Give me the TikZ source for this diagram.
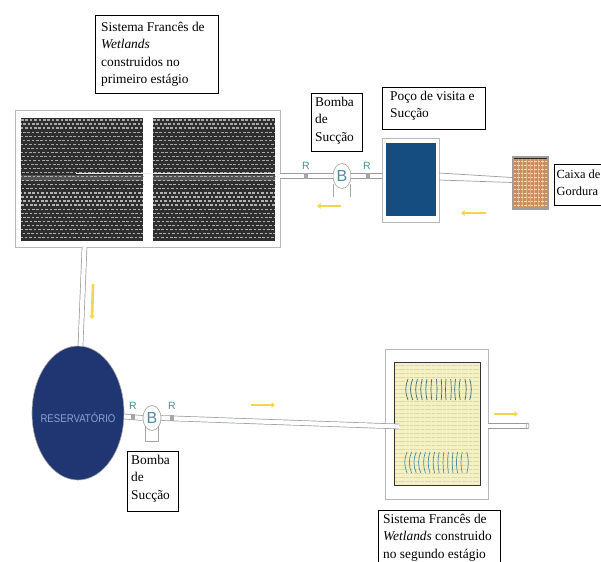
\documentclass[tikz,border=0pt]{standalone}
\usepackage{fontspec}
\setmainfont{Liberation Serif}
\setsansfont{Liberation Sans}
\usetikzlibrary{arrows.meta,shapes.geometric}
\definecolor{navy}{HTML}{1F3672}
\definecolor{well}{HTML}{164D80}
\definecolor{sand}{HTML}{F4F1C6}
\definecolor{sandline}{HTML}{DCD89E}
\definecolor{fat}{HTML}{C88F5E}
\definecolor{fatline}{HTML}{F3DDB8}
\definecolor{flow}{HTML}{EFD84A}
\definecolor{pipeg}{HTML}{9A9C9C}
\definecolor{teal2}{HTML}{4F8C9C}
\definecolor{reslabel}{HTML}{8AA5D0}
\tikzset{
 x=1pt,y=-1pt,
 label box/.style={draw=black,line width=.9pt,fill=white,anchor=north west,inner sep=0pt},
 label text/.style={anchor=north west,inner sep=0pt,align=left,font=\fontsize{13.4}{17.4}\selectfont},
 frame/.style={draw=black!28,line width=1pt,fill=white,anchor=north west,inner sep=0pt},
 pipe/.style={draw=pipeg,line width=.7pt,double=white,double distance=4.2pt},
 thin pipe/.style={draw=pipeg,line width=.7pt},
 flow arrow/.style={draw=flow,line width=2.6pt,-{Triangle[length=3.5pt,width=5.5pt]}},
 pump/.style={ellipse,draw=black!30,fill=white,line width=.8pt,minimum width=18pt,minimum height=25pt,inner sep=0pt,text=teal2,font=\sffamily\fontsize{16}{16}\selectfont},
 rlabel/.style={text=teal2,inner sep=0pt,font=\sffamily\fontsize{10.5}{10.5}\selectfont},
 valve/.style={fill=black!35,minimum width=3.5pt,minimum height=6pt,inner sep=0pt},
 leg/.style={draw=black!35,line width=.7pt}
}
\begin{document}
\begin{tikzpicture}
\useasboundingbox (0,0) rectangle (601,561);
\clip (0,0) rectangle (601,561);
% first stage wetland
\node[frame,minimum width=265pt,minimum height=137pt] (stageone) at (15,110) {};
\foreach \cx/\cname in {21/bedA,153/bedB}{
 \node[anchor=north west,fill=black!82,minimum width=122pt,minimum height=123pt,inner sep=0pt] (\cname) at (\cx,118) {};
 \fill[black!68] (\cx,175) rectangle ++(122,6);
 \foreach \r in {0,...,29}{
  \pgfmathsetmacro{\yy}{120+4.05*\r}
  \pgfmathsetmacro{\off}{mod(\r*2.3,4.4)}
  \pgfmathsetmacro{\shade}{\yy>174?70:66}
  \draw[white!\shade!black,line width=1.2pt,dash pattern=on 2.6pt off 1.8pt,dash phase=\off pt] (\cx,\yy) -- ++(122,0);
 }
}
\coordinate (inner) at (76,174);
\coordinate (stageoneout) at (275,174);
\draw[white!92!black,line width=1pt] (inner) -- (stageoneout);
% upper line
\node[pump] (pumpA) at (342,176) {B};
\node[frame,minimum width=57pt,minimum height=84pt] (wellframe) at (382,138) {};
\node[anchor=north west,fill=well,minimum width=50pt,minimum height=73pt,inner sep=0pt] (wellbox) at (386,143) {};
\node[anchor=north west,fill=black!38,minimum width=37pt,minimum height=54pt,inner sep=0pt] (fatframe) at (512,156) {};
\node[anchor=north west,fill=fat,minimum width=33pt,minimum height=49pt,inner sep=0pt] (fatbox) at (514,158) {};
\foreach \r in {0,...,11}{
 \draw[fatline,line width=1pt,dash pattern=on 2.4pt off 1pt] (514,161.5+4*\r) -- ++(33,0);
}
\foreach \c in {1,...,7}{
 \draw[fatline,opacity=.45,line width=.6pt] (514+4.1*\c,158) -- ++(0,49);
}
\draw[black!75!fat,line width=.8pt] (514,158.4) -- ++(33,0);
\coordinate (pA1) at (280,176);
\coordinate (pA2) at (382,176);
\draw[pipe] (pA1) -- (pumpA.west);
\draw[pipe] (pumpA.east) -- (pA2);
\coordinate (w1) at (439,173);\coordinate (f1) at (512,177.5);
\coordinate (w2) at (439,180);\coordinate (f2) at (512,182.5);
\draw[thin pipe] (w1) -- (f1);
\draw[thin pipe] (w2) -- (f2);
\coordinate (legA1) at (333,184);\coordinate (legA1b) at (333,197);
\coordinate (legA2) at (350,184);\coordinate (legA2b) at (350,197);
\draw[leg] (legA1) -- (legA1b);
\draw[leg] (legA2) -- (legA2b);
\node[rlabel] (rA1) at (306,166) {R};
\node[rlabel] (rA2) at (367,166) {R};
\node[valve] (vA1) at (306,176) {};
\node[valve] (vA2) at (368,176) {};
\coordinate (fa1) at (341,206);\coordinate (fa2) at (317,206);
\draw[flow arrow] (fa1) -- (fa2);
\coordinate (fb1) at (486,213);\coordinate (fb2) at (461,213);
\draw[flow arrow] (fb1) -- (fb2);
% reservoir
\node[ellipse,fill=navy,draw=black!35,line width=.6pt,minimum width=92pt,minimum height=134pt,inner sep=0pt] (res) at (78,413) {};
\node[text=reslabel,inner sep=0pt,xscale=.86,font=\sffamily\fontsize{11.2}{11}\selectfont] (restext) at (78,418) {RESERVATÓRIO};
\coordinate (d1) at (84.5,247);\coordinate (d2) at (80.5,346);
\draw[pipe] (d1) -- (d2);
\coordinate (fc1) at (93,284);\coordinate (fc2) at (92,319);
\draw[flow arrow] (fc1) -- (fc2);
% lower line
\node[pump] (pumpB) at (152,418) {B};
\coordinate (r1) at (124,416.5);
\draw[pipe] (r1) -- (pumpB.west);
\node[frame,minimum width=103pt,minimum height=150pt] (stagetwo) at (385,349) {};
\node[anchor=north west,fill=sand,draw=black!80,line width=.7pt,minimum width=86pt,minimum height=123pt,inner sep=0pt] (bed2) at (394,362) {};
\foreach \r in {0,...,29}{
 \draw[sandline,line width=.6pt,dash pattern=on 3pt off .7pt] (395,365+4*\r) -- ++(84,0);
}
\foreach \i/\bA/\bB in {0/-1.5/-1.5,1/-1.5/-1.5,2/-1.2/-1.5,3/-1/-1.5,4/-.8/-1.2,5/-.5/-1.2,6/.3/-1,7/.3/-.8,8/-.3/-.5,9/.3/-.5,10/-.5/-.5,11/-.8/-.8,12/.8/-.8,13/1/1}{
 \pgfmathsetmacro{\xx}{408+4.75*\i}
 \draw[teal2!75!black,line width=.7pt] (\xx,379) .. controls (\xx+\bA*2,386) and (\xx+\bA*2,393) .. (\xx,400);
 \pgfmathsetmacro{\xy}{407+4.6*\i}
 \draw[teal2,line width=.7pt] (\xy,452) .. controls (\xy+\bB*2,459) and (\xy+\bB*2,466) .. (\xy,473);
}
\coordinate (l1) at (pumpB.east);\coordinate (l2) at (399,426.5);
\draw[pipe] (l1) -- (l2);
\coordinate (o1) at (488,426);\coordinate (o2) at (527,426);
\draw[pipe] (o1) -- (o2);
\node[ellipse,draw=pipeg,fill=white,line width=.6pt,minimum width=3pt,minimum height=6pt,inner sep=0pt] (oend) at (527.5,426) {};
\coordinate (legB1) at (145,426);\coordinate (legB1b) at (145,441);
\coordinate (legB2) at (158,426);\coordinate (legB2b) at (158,441);
\draw[leg] (legB1) -- (legB1b) -- (legB2b) -- (legB2);
\node[rlabel] (rB1) at (133,406) {R};
\node[rlabel] (rB2) at (172,406) {R};
\node[valve] (vB1) at (133,417) {};
\node[valve] (vB2) at (172,418) {};
\coordinate (fd1) at (251,405);\coordinate (fd2) at (275,405);
\draw[flow arrow] (fd1) -- (fd2);
\coordinate (fe1) at (494,414);\coordinate (fe2) at (518,414);
\draw[flow arrow] (fe1) -- (fe2);
% labels
\node[label box,minimum width=123pt,minimum height=78pt] (lab1) at (95,15) {};
\node[label text] (lab1t) at (101,22) {Sistema Francês de\\\textit{Wetlands}\\construidos no\\primeiro estágio};
\node[label box,minimum width=51pt,minimum height=58pt] (lab2) at (311,93) {};
\node[label text] (lab2t) at (315,97) {Bomba\\de\\Sucção};
\node[label box,minimum width=103pt,minimum height=42pt] (lab3) at (382,87) {};
\node[label text] (lab3t) at (390,91) {Poço de visita e\\Sucção};
\node[label box,minimum width=60pt,minimum height=41pt] (lab4) at (554,164) {};
\node[label text,font=\fontsize{12.4}{16.2}\selectfont] (lab4t) at (556.5,170) {Caixa de\\Gordura};
\node[label box,minimum width=51pt,minimum height=60pt] (lab5) at (127,451) {};
\node[label text] (lab5t) at (131,455) {Bomba\\de\\Sucção};
\node[label box,minimum width=122pt,minimum height=60pt] (lab6) at (378,510) {};
\node[label text] (lab6t) at (383,514) {Sistema Francês de\\\textit{Wetlands} construido\\no segundo estágio};
\end{tikzpicture}
\end{document}
